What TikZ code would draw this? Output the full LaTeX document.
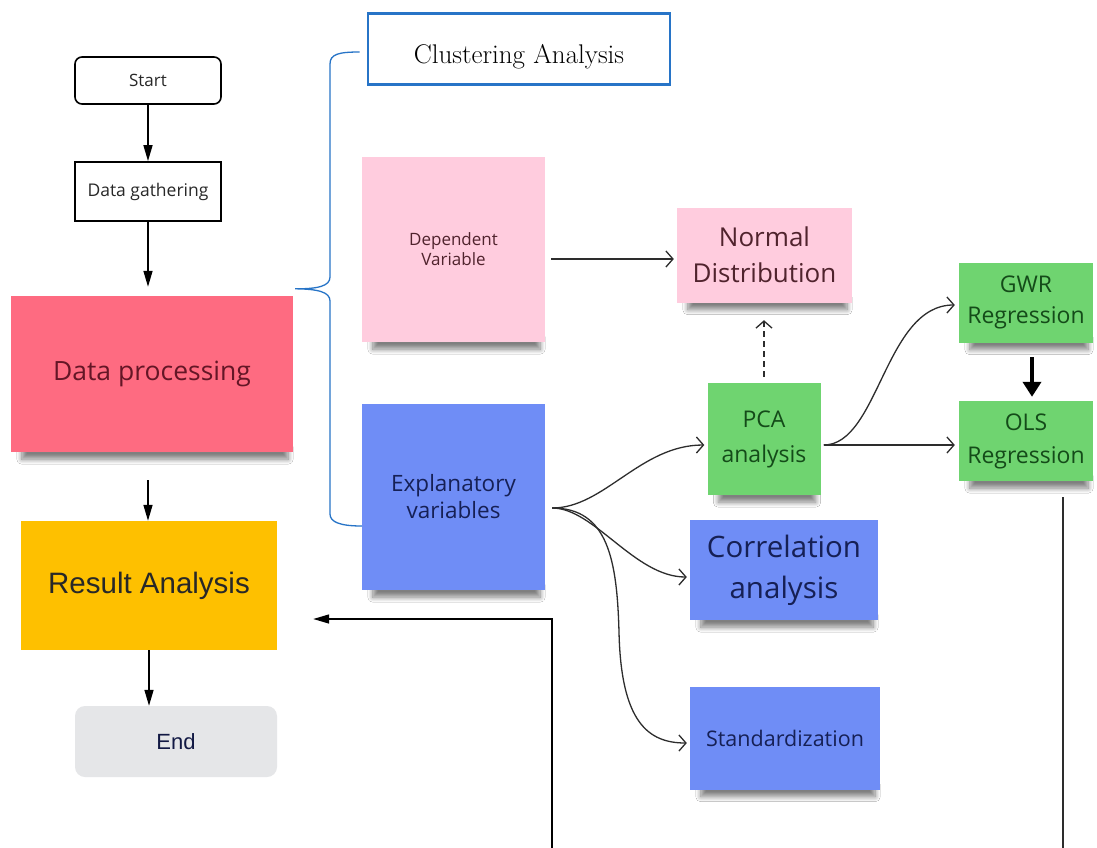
\documentclass[tikz,border=0pt]{standalone}
\usepackage{fontspec}
\newfontfamily\osans{Open Sans}
\newfontfamily\arialf{Liberation Sans}
\usetikzlibrary{arrows.meta,shadows.blur,backgrounds}
\definecolor{procred}{RGB}{254,107,129}
\definecolor{resyel}{RGB}{254,192,0}
\definecolor{endgray}{RGB}{229,230,232}
\definecolor{clublue}{RGB}{39,116,199}
\definecolor{stpink}{RGB}{255,204,222}
\definecolor{stblue}{RGB}{111,141,246}
\definecolor{stgreen}{RGB}{111,212,112}
\definecolor{txtdark}{RGB}{40,40,40}
\definecolor{txtmaroon}{RGB}{100,22,38}
\definecolor{txtpink}{RGB}{80,35,45}
\definecolor{txtnavy}{RGB}{22,32,85}
\definecolor{txtgreen}{RGB}{20,75,25}
\definecolor{linegray}{RGB}{45,45,45}
\tikzset{
  box/.style={inner sep=0pt, align=center},
  sticky/.style={box},
  stshadow/.style={blur shadow={shadow xshift=1pt, shadow yshift=-7pt, shadow opacity=50, shadow blur radius=5pt, shadow blur steps=10, shadow scale=1}},
  flowarr/.style={line width=1.5pt, black, -{Triangle[length=16pt,width=9pt]}},
  openarr/.style={line width=1.3pt, linegray, -{Straight Barb[length=7pt,width=16pt,line width=1.3pt]}},
  curvearr/.style={openarr},
  bracestyle/.style={line width=1.3pt, clublue},
}
\newcommand\stickyshadow[1]{\path[stshadow] ([shift={(10pt,0pt)}]#1.south west) rectangle ([shift={(-6pt,12pt)}]#1.south east);}
\begin{document}
\begin{tikzpicture}[x=1pt,y=-1pt]
\useasboundingbox (0,0) rectangle (1097,847);
\begin{scope}[on background layer]
\fill[white] (0,0) rectangle (1097,847);
\end{scope}

% left flow column
\node[box, draw, line width=1.6pt, rounded corners=7pt, minimum width=146pt, minimum height=47pt,
  font=\osans\fontsize{17}{20}\selectfont, text=txtdark] (start) at (148,80.5) {Start};
\node[box, draw, line width=1.8pt, minimum width=146pt, minimum height=59pt,
  font=\osans\fontsize{17.5}{20}\selectfont, text=txtdark] (gather) at (148,191.5) {Data gathering};
\node[sticky, fill=procred, minimum width=282pt, minimum height=156pt,
  font=\osans\fontsize{26.5}{30}\selectfont, text=txtmaroon] (proc) at (152,374) {Data processing};
\node[box, fill=resyel, minimum width=256pt, minimum height=129pt,
  font=\arialf\fontsize{29.5}{34}\selectfont, text=txtdark] (res) at (149,585.5) {Result Analysis};
\node[box, fill=endgray, rounded corners=10pt, minimum width=202pt, minimum height=71pt,
  font=\arialf\fontsize{22}{26}\selectfont, text=txtnavy!80!black] (endn) at (176,741.5) {End};

\draw[flowarr] (start.south) -- (gather.north);
\draw[flowarr, shorten >=9pt] (gather.south) -- (gather.south |- proc.north);
\draw[flowarr, shorten <=28pt] ([xshift=-4pt]proc.south) -- ([xshift=-1pt]res.north);
\draw[flowarr] (res.south) -- (res.south |- endn.north);

% clustering box
\node[box, draw=clublue, line width=2.6pt, minimum width=302pt, minimum height=71pt,
  label={[font=\fontsize{27}{30}\selectfont, yshift=-8pt]center:Clustering Analysis}] (clu) at (519,49) {};

% right stickies
\node[sticky, fill=stpink, minimum width=183pt, minimum height=185pt,
  font=\osans\fontsize{17}{20}\selectfont, text=txtpink] (dep) at (453.5,249.5) {Dependent\\Variable};
\node[sticky, fill=stblue, minimum width=183pt, minimum height=186pt,
  font=\osans\fontsize{22.5}{27}\selectfont, text=txtnavy] (expl) at (453.5,497) {Explanatory\\variables};
\node[sticky, fill=stpink, minimum width=175pt, minimum height=95pt,
  font=\osans\fontsize{26}{36}\selectfont, text=txtpink] (normal) at (764.5,255) {Normal\\Distribution};
\node[sticky, fill=stgreen, minimum width=113pt, minimum height=112pt,
  font=\osans\fontsize{23}{35}\selectfont, text=txtgreen] (pca) at (764,439) {PCA\\analysis};
\node[sticky, fill=stgreen, minimum width=134pt, minimum height=80pt,
  font=\osans\fontsize{23}{31}\selectfont, text=txtgreen] (gwr) at (1026,302.5) {GWR\\Regression};
\node[sticky, fill=stgreen, minimum width=134pt, minimum height=80pt,
  font=\osans\fontsize{23}{33}\selectfont, text=txtgreen] (ols) at (1026,441) {OLS\\Regression};
\node[sticky, fill=stblue, minimum width=188pt, minimum height=100pt,
  font=\osans\fontsize{29.5}{41}\selectfont, text=txtnavy] (corr) at (784,570) {Correlation\\analysis};
\node[sticky, fill=stblue, minimum width=190pt, minimum height=103pt,
  font=\osans\fontsize{21.5}{26}\selectfont, text=txtnavy] (std) at (785,738) {Standardization};

% shadows under the sticky notes
\begin{scope}[on background layer]
\stickyshadow{proc}
\stickyshadow{dep}
\stickyshadow{expl}
\stickyshadow{normal}
\stickyshadow{pca}
\stickyshadow{gwr}
\stickyshadow{ols}
\stickyshadow{corr}
\stickyshadow{std}
\end{scope}

% brace
\draw[bracestyle] ([shift={(-7pt,-3pt)}]clu.west) .. controls (339,52) and (330,54) .. (330,64)
  -- (330,277) .. controls (330,286) and (318,289) .. ([shift={(2pt,7pt)}]proc.north east)
  .. controls (318,289) and (330,292) .. (330,301)
  -- (330,514) .. controls (330,522) and (340,526) .. ([shift={(0pt,-29pt)}]expl.west);

% connectors
\draw[openarr] ([shift={(6pt,-9.5pt)}]dep.east) -- ([shift={(-3pt,-4pt)}]normal.west);
\draw[openarr, dashed, dash pattern=on 6pt off 4pt] ([yshift=6pt]pca.north) -- ([yshift=-17.5pt]normal.south -| pca.north);

\coordinate (ex) at ([shift={(7pt,-11pt)}]expl.east);
\draw[curvearr] (ex) .. controls +(52pt,0pt) and +(-64pt,0pt) .. ([shift={(-3pt,-6pt)}]pca.west);
\draw[curvearr] (ex) .. controls +(42pt,0pt) and +(-52pt,0pt) .. ([shift={(-3pt,-7pt)}]corr.west);
\draw[curvearr] (ex) .. controls (608,508) and (617,560) .. (619,632)
  .. controls (621,722) and (648,743) .. ([shift={(-3pt,-5pt)}]std.west);

\coordinate (pout) at ([shift={(3pt,-6pt)}]pca.east);
\draw[curvearr] (pout) .. controls +(55pt,0pt) and +(-70pt,0pt) .. ([shift={(-4pt,-2.5pt)}]gwr.west);
\draw[openarr] (pout) -- ([shift={(-4pt,-4pt)}]ols.west);

\draw[line width=4.5pt, black, -{Triangle[length=15pt,width=18pt]}] ([shift={(6pt,-14.5pt)}]gwr.south) -- ([shift={(6pt,4pt)}]ols.north);

\coordinate (olsend) at (1063,848);
\draw[line width=1.5pt, linegray] ([shift={(37pt,-16pt)}]ols.south) -- (olsend);

\coordinate (retstart) at (552,848);
\draw[flowarr] (retstart) |- ([shift={(36pt,-33.5pt)}]res.east);
\end{tikzpicture}
\end{document}
